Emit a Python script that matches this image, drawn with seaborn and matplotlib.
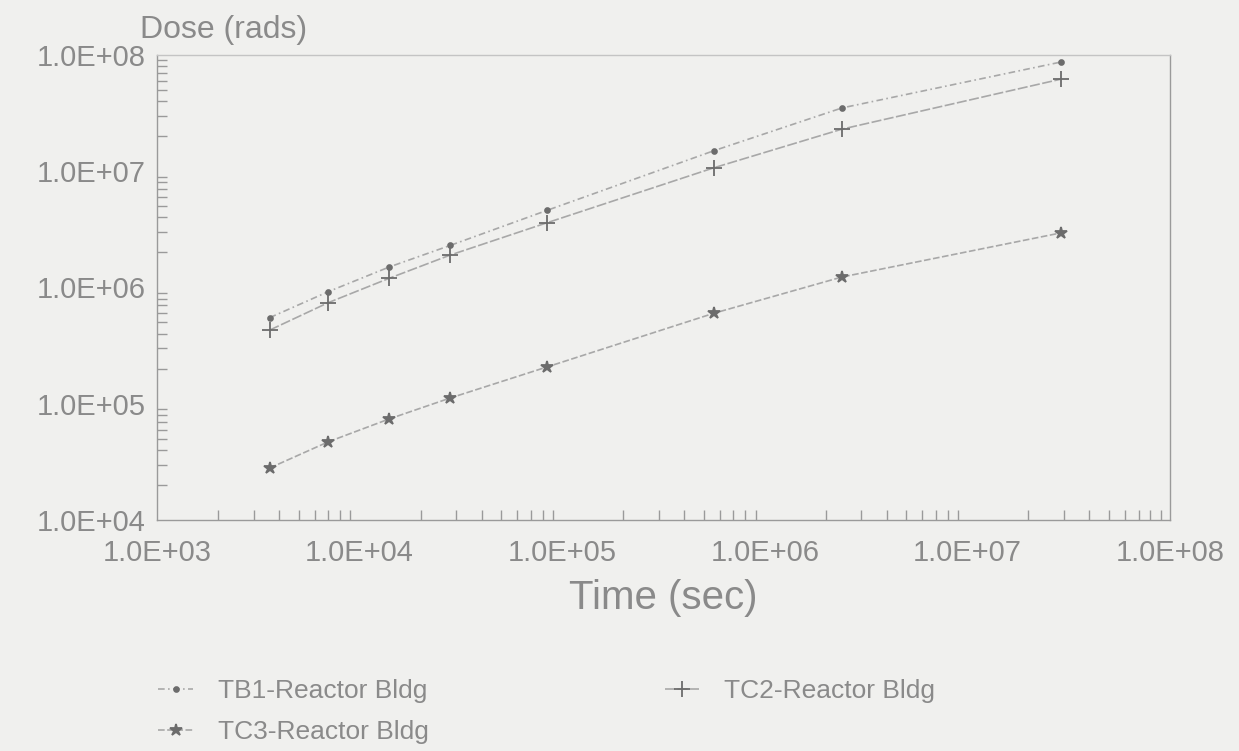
import numpy as np
import pandas as pd
import matplotlib
matplotlib.use('Agg')
import matplotlib.pyplot as plt
from matplotlib.ticker import LogLocator, FuncFormatter, NullFormatter
import seaborn as sns

# valores
time_sec = [3.6e3, 7.0e3, 1.4e4, 2.8e4, 8.4e4, 5.6e5, 2.4e6, 2.9e7]
dose_tb1 = [5.5e5, 9.2e5, 1.5e6, 2.3e6, 4.6e6, 1.5e7, 3.5e7, 8.7e7]
dose_tc2 = [4.3e5, 7.4e5, 1.2e6, 1.9e6, 3.6e6, 1.07e7, 2.3e7, 6.2e7]
dose_tc3 = [2.8e4, 4.7e4, 7.4e4, 1.12e5, 2.07e5, 6.0e5, 1.23e6, 2.95e6]
series_names = ['TB1-Reactor Bldg', 'TC2-Reactor Bldg', 'TC3-Reactor Bldg']
x_ticks = [1e3, 1e4, 1e5, 1e6, 1e7, 1e8]
y_ticks = [1e4, 1e5, 1e6, 1e7, 1e8]

bg = '#f0f0ee'
txt = '#8a8a8a'
linecol = '#a8a8a8'
markcol = '#6c6c6c'

sns.set_theme(style='ticks')
plt.rcParams['font.family'] = ['Liberation Sans', 'DejaVu Sans']

df = pd.DataFrame({'time': time_sec * 3,
                   'dose': dose_tb1 + dose_tc2 + dose_tc3,
                   'case': np.repeat(series_names, len(time_sec))})

estilos = {
    'TB1-Reactor Bldg': dict(marker='.', markersize=7, linestyle=(0, (4, 2, 1, 2))),
    'TC2-Reactor Bldg': dict(marker='+', markersize=12, linestyle=(0, (6, 1.5))),
    'TC3-Reactor Bldg': dict(marker='*', markersize=9, linestyle=(0, (4, 1.5))),
}

fig = plt.figure(figsize=(12.39, 7.51), dpi=100, facecolor=bg)
ax = fig.add_axes([0.1267, 0.3076, 0.8176, 0.6192])
ax.set_facecolor(bg)

for name in series_names:
    sub = df[df['case'] == name]
    sns.lineplot(data=sub, x='time', y='dose', ax=ax, color=linecol, lw=1.2,
                 markeredgecolor=markcol, markerfacecolor=markcol,
                 markeredgewidth=1.3, label=name, **estilos[name])

if ax.get_legend() is not None:
    ax.get_legend().remove()

ax.set_xscale('log')
ax.set_yscale('log')
ax.set_xlim(1e3, 1e8)
ax.set_ylim(1e4, 1e8)
ax.set_xticks(x_ticks)
ax.set_yticks(y_ticks)
fmt = FuncFormatter(lambda v, p: f'{v:.1E}')
ax.xaxis.set_major_formatter(fmt)
ax.yaxis.set_major_formatter(fmt)
ax.xaxis.set_minor_locator(LogLocator(base=10, subs=np.arange(2, 10)))
ax.yaxis.set_minor_locator(LogLocator(base=10, subs=np.arange(2, 10)))
ax.xaxis.set_minor_formatter(NullFormatter())
ax.yaxis.set_minor_formatter(NullFormatter())

ax.tick_params(axis='both', which='both', direction='in', color='#9a9a9a',
               width=1, labelcolor=txt, labelsize=21)
ax.tick_params(axis='both', which='major', length=0)
ax.tick_params(axis='both', which='minor', length=7)
ax.tick_params(axis='x', which='major', pad=14)
ax.tick_params(axis='y', which='major', pad=8)

for s in ax.spines.values():
    s.set_color('#9a9a9a')
    s.set_linewidth(1.0)
ax.spines['top'].set_color('#c4c4c4')

ax.set_xlabel('Time (sec)', fontsize=29, color=txt, labelpad=8)
ax.set_ylabel('')
fig.text(140 / 1239, 1 - 30 / 751, 'Dose (rads)', fontsize=23, color=txt,
         ha='left', va='center')

h, l = ax.get_legend_handles_labels()
orden = [0, 2, 1]
leg = fig.legend([h[i] for i in orden], [l[i] for i in orden], ncol=2,
                 loc='upper left', bbox_to_anchor=(140 / 1239, 1 - 661 / 751),
                 frameon=False, fontsize=19, handlelength=1.3,
                 handletextpad=0.95, columnspacing=8.95, labelspacing=0.62,
                 borderpad=0.2)
for t in leg.get_texts():
    t.set_color(txt)

fig.savefig('out.png', dpi=100, facecolor=bg)
